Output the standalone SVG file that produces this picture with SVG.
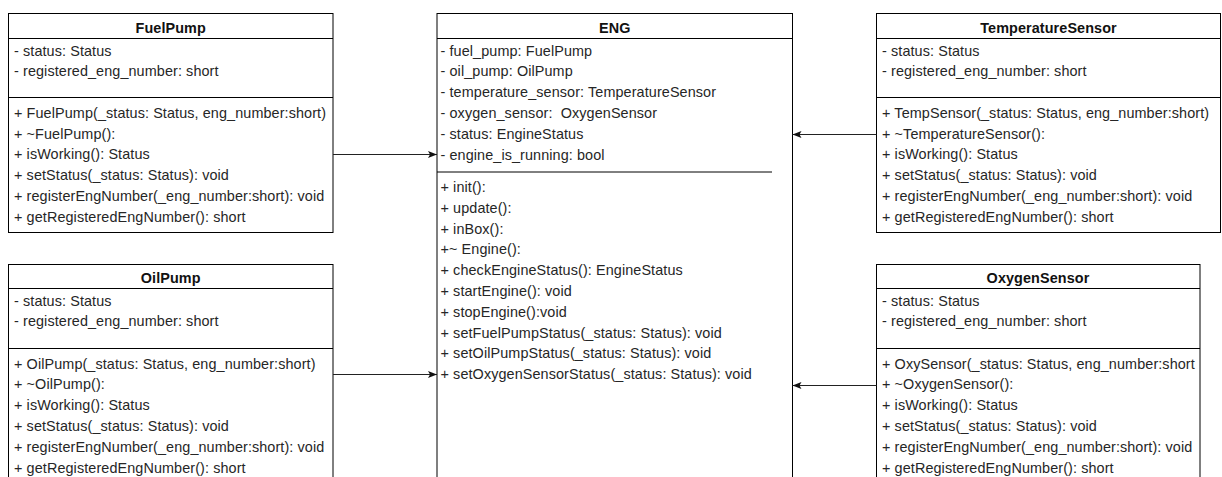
<svg xmlns="http://www.w3.org/2000/svg" width="1222" height="477" viewBox="0 0 1222 477">
  <style>
    .box { fill: #ffffff; stroke: #000000; stroke-width: 1; }
    .sep { stroke: #000000; stroke-width: 1; fill: none; }
    .title { font-family: "Liberation Sans", Arial, sans-serif; font-size: 14.4px; font-weight: bold; fill: #111111; text-anchor: middle; letter-spacing: 0.1px; }
    .row { font-family: "Liberation Sans", Arial, sans-serif; font-size: 14.4px; fill: #262626; letter-spacing: 0.1px; }
    .link { stroke: #222222; stroke-width: 1; fill: none; }
  </style>
  <defs>
    <marker id="arrow" markerUnits="userSpaceOnUse" markerWidth="10" markerHeight="8" refX="9" refY="3.5" orient="auto">
      <path d="M0,0 L9,3.5 L0,7 L2,3.5 Z" fill="#111111"/>
    </marker>
  </defs>
  <rect width="1222" height="477" fill="#ffffff"/>

  <!-- FuelPump class -->
  <g id="fuelpump">
    <rect class="box" x="8.5" y="13.5" width="324.5" height="219"/>
    <line class="sep" x1="8.5" y1="38.5" x2="333" y2="38.5"/>
    <line class="sep" x1="8.5" y1="97.5" x2="333" y2="97.5"/>
    <text class="title" x="170.7" y="32.5">FuelPump</text>
    <text class="row" x="14" y="55.5">- status: Status</text>
    <text class="row" x="14" y="76.3">- registered_eng_number: short</text>
    <text class="row" x="14" y="117.7">+ FuelPump(_status: Status, eng_number:short)</text>
    <text class="row" x="14" y="138.5">+ ~FuelPump():</text>
    <text class="row" x="14" y="159.3">+ isWorking(): Status</text>
    <text class="row" x="14" y="180.1">+ setStatus(_status: Status): void</text>
    <text class="row" x="14" y="200.9">+ registerEngNumber(_eng_number:short): void</text>
    <text class="row" x="14" y="221.7">+ getRegisteredEngNumber(): short</text>
  </g>

  <!-- OilPump class -->
  <g id="oilpump">
    <rect class="box" x="8.5" y="264.5" width="324.5" height="230"/>
    <line class="sep" x1="8.5" y1="288.5" x2="333" y2="288.5"/>
    <line class="sep" x1="8.5" y1="348.5" x2="333" y2="348.5"/>
    <text class="title" x="170.7" y="283">OilPump</text>
    <text class="row" x="14" y="305.5">- status: Status</text>
    <text class="row" x="14" y="326.3">- registered_eng_number: short</text>
    <text class="row" x="14" y="368.5">+ OilPump(_status: Status, eng_number:short)</text>
    <text class="row" x="14" y="389.3">+ ~OilPump():</text>
    <text class="row" x="14" y="410.1">+ isWorking(): Status</text>
    <text class="row" x="14" y="430.9">+ setStatus(_status: Status): void</text>
    <text class="row" x="14" y="451.7">+ registerEngNumber(_eng_number:short): void</text>
    <text class="row" x="14" y="472.5">+ getRegisteredEngNumber(): short</text>
  </g>

  <!-- ENG class -->
  <g id="eng">
    <rect class="box" x="437" y="13.5" width="355.5" height="480"/>
    <line class="sep" x1="437" y1="38.5" x2="792.5" y2="38.5"/>
    <line class="sep" x1="437" y1="172" x2="772" y2="172"/>
    <text class="title" x="614.7" y="32.5">ENG</text>
    <text class="row" x="440.5" y="55.5">- fuel_pump: FuelPump</text>
    <text class="row" x="440.5" y="76.3">- oil_pump: OilPump</text>
    <text class="row" x="440.5" y="97.1">- temperature_sensor: TemperatureSensor</text>
    <text class="row" x="440.5" y="117.9" xml:space="preserve">- oxygen_sensor:  OxygenSensor</text>
    <text class="row" x="440.5" y="138.7">- status: EngineStatus</text>
    <text class="row" x="440.5" y="159.5">- engine_is_running: bool</text>
    <text class="row" x="440.5" y="192">+ init():</text>
    <text class="row" x="440.5" y="212.8">+ update():</text>
    <text class="row" x="440.5" y="233.6">+ inBox():</text>
    <text class="row" x="440.5" y="254.4">+~ Engine():</text>
    <text class="row" x="440.5" y="275.2">+ checkEngineStatus(): EngineStatus</text>
    <text class="row" x="440.5" y="296">+ startEngine(): void</text>
    <text class="row" x="440.5" y="316.8">+ stopEngine():void</text>
    <text class="row" x="440.5" y="337.6">+ setFuelPumpStatus(_status: Status): void</text>
    <text class="row" x="440.5" y="358.4">+ setOilPumpStatus(_status: Status): void</text>
    <text class="row" x="440.5" y="379.2">+ setOxygenSensorStatus(_status: Status): void</text>
  </g>

  <!-- TemperatureSensor class -->
  <g id="temperaturesensor">
    <rect class="box" x="876.5" y="13.5" width="344" height="219"/>
    <line class="sep" x1="876.5" y1="38.5" x2="1220.5" y2="38.5"/>
    <line class="sep" x1="876.5" y1="97.5" x2="1220.5" y2="97.5"/>
    <text class="title" x="1048.5" y="32.5">TemperatureSensor</text>
    <text class="row" x="882" y="55.5">- status: Status</text>
    <text class="row" x="882" y="76.3">- registered_eng_number: short</text>
    <text class="row" x="882" y="117.7">+ TempSensor(_status: Status, eng_number:short)</text>
    <text class="row" x="882" y="138.5">+ ~TemperatureSensor():</text>
    <text class="row" x="882" y="159.3">+ isWorking(): Status</text>
    <text class="row" x="882" y="180.1">+ setStatus(_status: Status): void</text>
    <text class="row" x="882" y="200.9">+ registerEngNumber(_eng_number:short): void</text>
    <text class="row" x="882" y="221.7">+ getRegisteredEngNumber(): short</text>
  </g>

  <!-- OxygenSensor class -->
  <g id="oxygensensor">
    <rect class="box" x="876.5" y="264.5" width="323.5" height="230"/>
    <line class="sep" x1="876.5" y1="288.5" x2="1200" y2="288.5"/>
    <line class="sep" x1="876.5" y1="348.5" x2="1200" y2="348.5"/>
    <text class="title" x="1038" y="283">OxygenSensor</text>
    <text class="row" x="882" y="305.5">- status: Status</text>
    <text class="row" x="882" y="326.3">- registered_eng_number: short</text>
    <text class="row" x="882" y="368.5">+ OxySensor(_status: Status, eng_number:short</text>
    <text class="row" x="882" y="389.3">+ ~OxygenSensor():</text>
    <text class="row" x="882" y="410.1">+ isWorking(): Status</text>
    <text class="row" x="882" y="430.9">+ setStatus(_status: Status): void</text>
    <text class="row" x="882" y="451.7">+ registerEngNumber(_eng_number:short): void</text>
    <text class="row" x="882" y="472.5">+ getRegisteredEngNumber(): short</text>
  </g>

  <!-- Associations into ENG -->
  <g id="connectors">
    <line class="link" x1="333" y1="154.5" x2="437" y2="154.5" marker-end="url(#arrow)"/>
    <line class="link" x1="333" y1="374.5" x2="437" y2="374.5" marker-end="url(#arrow)"/>
    <line class="link" x1="876.5" y1="134.5" x2="792.5" y2="134.5" marker-end="url(#arrow)"/>
    <line class="link" x1="876.5" y1="385.5" x2="792.5" y2="385.5" marker-end="url(#arrow)"/>
  </g>
</svg>
